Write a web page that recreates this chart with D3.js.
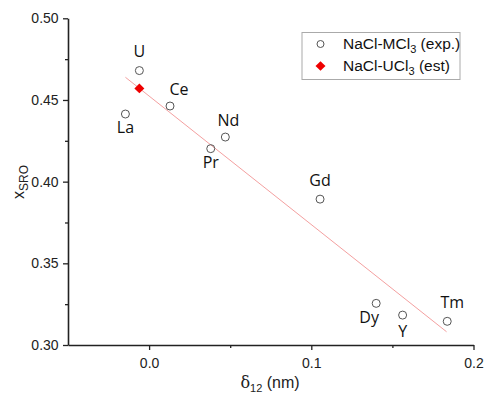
<!DOCTYPE html>
<html><head><meta charset="utf-8">
<script src="https://cdn.jsdelivr.net/npm/d3@7"></script>
<style>body{margin:0;background:#fff}svg{display:block}</style>
</head><body>
<script>
const elements = ["La","U","Ce","Pr","Nd","Gd","Dy","Y","Tm"];
const delta12 = [-0.0146,-0.006,0.0129,0.038,0.047,0.1054,0.140,0.1563,0.1838];
const xSRO = [0.4414,0.468,0.4463,0.4202,0.4273,0.3893,0.3255,0.3183,0.3145];
const estX = [-0.006];
const estY = [0.4571];
const fitX = [-0.0146,0.1834];
const fitY = [0.4639,0.3081];
const xTicks = [0.0,0.1,0.2];
const yTicks = [0.30,0.35,0.40,0.45,0.50];
// label placement (dx, dy in px relative to point)
const labelOffsets = [[0,19],[0,-14],[9,-11],[0,19],[3,-11],[0,-13],[-7,20],[0,22],[5,-13]];

const W=485,H=399;
const svg=d3.select("body").append("svg").attr("width",W).attr("height",H);
const x=d3.scaleLinear().domain([-0.05,0.2]).range([68,473.5]);
const y=d3.scaleLinear().domain([0.30,0.50]).range([345,18.3]);

const tickFont="'Liberation Sans', Arial, sans-serif";
// x axis
const gx=svg.append("g").attr("transform","translate(0,345)");
gx.call(d3.axisBottom(x).tickValues(xTicks).tickFormat(d3.format(".1f")).tickSize(5).tickSizeOuter(0));
gx.append("g").call(d3.axisBottom(x).tickValues([0.05,0.15]).tickFormat("").tickSize(3).tickSizeOuter(0))
  .select(".domain").remove();
// y axis
const gy=svg.append("g").attr("transform","translate(68,0)");
gy.call(d3.axisLeft(y).tickValues(yTicks).tickFormat(d3.format(".2f")).tickSize(5).tickSizeOuter(0));
gy.append("g").call(d3.axisLeft(y).tickValues([0.325,0.375,0.425,0.475]).tickFormat("").tickSize(3).tickSizeOuter(0))
  .select(".domain").remove();
svg.selectAll(".domain").attr("stroke","#222").attr("stroke-width",1.6);
svg.selectAll(".tick line").attr("stroke","#222").attr("stroke-width",1.3);
svg.selectAll(".tick text").attr("font-family",tickFont).attr("font-size",14).attr("fill","#222");
gx.selectAll(".tick text").attr("dy","1.05em");
gy.selectAll(".tick text").attr("dx","-0.1em");

// axis titles
const yt=svg.append("text").attr("transform","translate(24,182) rotate(-90)").attr("text-anchor","middle")
  .attr("font-family",tickFont).attr("font-size",16).attr("fill","#222");
yt.append("tspan").text("x");
yt.append("tspan").attr("font-size",12).attr("dy",4).text("SRO");
const xt=svg.append("text").attr("x",270).attr("y",388).attr("text-anchor","middle")
  .attr("font-family",tickFont).attr("font-size",16).attr("fill","#222");
xt.append("tspan").attr("font-family","'DejaVu Serif', serif").text("δ");
xt.append("tspan").attr("font-size",11).attr("dy",4).text("12");
xt.append("tspan").attr("dy",-4).text(" (nm)");

// fit line
svg.append("line").attr("x1",x(fitX[0])).attr("y1",y(fitY[0])).attr("x2",x(fitX[1])).attr("y2",y(fitY[1]))
  .attr("stroke","#f4a0a0").attr("stroke-width",1);

// points
svg.selectAll("circle.pt").data(elements).join("circle").attr("class","pt")
  .attr("cx",(d,i)=>x(delta12[i])).attr("cy",(d,i)=>y(xSRO[i])).attr("r",4)
  .attr("fill","none").attr("stroke","#555").attr("stroke-width",1);
const diamond="M0,-4.8L5,0L0,4.8L-5,0Z";
svg.selectAll("path.est").data(estX).join("path").attr("class","est")
  .attr("d",diamond).attr("transform",(d,i)=>`translate(${x(estX[i])},${y(estY[i])})`).attr("fill","#ee0000");

// labels
svg.selectAll("text.lbl").data(elements).join("text").attr("class","lbl")
  .attr("x",(d,i)=>x(delta12[i])+labelOffsets[i][0]).attr("y",(d,i)=>y(xSRO[i])+labelOffsets[i][1])
  .attr("text-anchor","middle").attr("font-family","'Open Sans', sans-serif").attr("font-size",16).attr("fill","#111")
  .text(d=>d);

// legend
const lg=svg.append("g");
lg.append("rect").attr("x",302).attr("y",32.5).attr("width",158).attr("height",47)
  .attr("fill","#fff").attr("stroke","#aaa").attr("stroke-width",1);
lg.append("circle").attr("cx",320.5).attr("cy",44).attr("r",3.5).attr("fill","none").attr("stroke","#555");
lg.append("path").attr("d",diamond).attr("transform","translate(320.5,66)").attr("fill","#ee0000");
const legTexts=[["NaCl-MCl","3"," (exp.)"],["NaCl-UCl","3"," (est)"]];
legTexts.forEach((t,i)=>{
  const tx=lg.append("text").attr("x",343).attr("y",49+i*22).attr("font-family",tickFont).attr("font-size",15.5).attr("fill","#111");
  tx.append("tspan").text(t[0]);
  tx.append("tspan").attr("font-size",11).attr("dy",4).text(t[1]);
  tx.append("tspan").attr("dy",-4).text(t[2]);
});
</script>
</body></html>
